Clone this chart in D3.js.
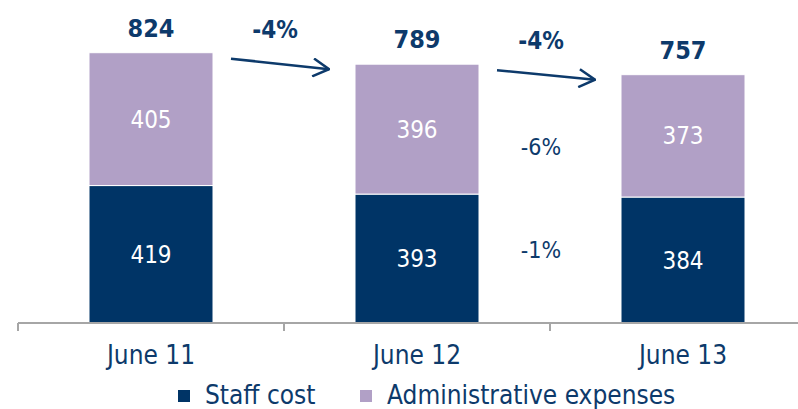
<!DOCTYPE html>
<meta charset="utf-8">
<script src="https://d3js.org/d3.v7.min.js"></script>
<style>
  body { margin: 0; background: #fff; }
  text { font-family: "DejaVu Sans Condensed", "DejaVu Sans", sans-serif; }
</style>
<div id="chart"></div>
<script>

// data
var categories = ["June 11", "June 12", "June 13"];
var staffCost = [419, 393, 384];
var adminExp = [405, 396, 373];
var totals = [824, 789, 757];
var yoyLabels = ["-4%", "-4%"];
var growthLabels = ["-1%", "-6%"];   // staff, admin (June 12 -> June 13)
var seriesNames = ["Staff cost", "Administrative expenses"];

var navy = "#003466", lilac = "#b1a0c6", textCol = "#0d3a6b";

var W = 798, H = 409;
var baseY = 323;

var svg = d3.select("#chart").append("svg")
    .attr("width", W)
    .attr("height", H);

var x = d3.scaleBand()
    .domain(categories)
    .range([18, 816])
    .paddingInner(0)
    .paddingOuter(0);

var barW = 124;

var y = d3.scaleLinear()
    .domain([0, 824])
    .range([baseY, 52.7]);

// stacked data
var rows = categories.map(function(c, i) {
  return {cat: c, staff: staffCost[i], admin: adminExp[i]};
});
var stack = d3.stack().keys(["staff", "admin"]);
var layers = stack(rows);
var colors = [navy, lilac];

function barX(c) { return x(c) + (x.bandwidth() - barW) / 2; }

layers.forEach(function(layer, li) {
  svg.append("g").selectAll("rect")
    .data(layer)
    .enter().append("rect")
      .attr("x", function(d) { return barX(d.data.cat); })
      .attr("y", function(d) { return y(d[1]); })
      .attr("width", barW)
      .attr("height", function(d) { return y(d[0]) - y(d[1]); })
      .attr("fill", colors[li])
      .attr("stroke", "#fff")
      .attr("stroke-width", 1);

  // value labels in the middle of each segment
  svg.append("g").selectAll("text")
    .data(layer)
    .enter().append("text")
      .attr("x", function(d) { return x(d.data.cat) + x.bandwidth() / 2; })
      .attr("y", function(d) { return (y(d[0]) + y(d[1])) / 2; })
      .attr("dy", "0.36em")
      .attr("text-anchor", "middle")
      .attr("fill", "#fff")
      .style("font-size", "24px")
      .text(function(d) { return d[1] - d[0]; });
});

// axis
var axis = svg.append("g")
    .attr("transform", "translate(0," + baseY + ")")
    .call(d3.axisBottom(x).tickSize(0).tickPadding(23));
axis.select(".domain").attr("stroke", "#a6a6a6").attr("stroke-width", 2)
    .attr("d", "M18,0H798");
axis.selectAll(".tick text")
    .attr("fill", textCol)
    .style("font-size", "26px")
    .attr("dy", "0.71em");
// ticks between categories
var bounds = [18, x(categories[1]), x(categories[2])];
axis.selectAll(".sep").data(bounds).enter().append("line")
    .attr("x1", function(d) { return d; })
    .attr("x2", function(d) { return d; })
    .attr("y1", 0).attr("y2", 8)
    .attr("stroke", "#a6a6a6").attr("stroke-width", 2);

// totals
svg.append("g").selectAll("text")
  .data(totals)
  .enter().append("text")
    .attr("x", function(d, i) { return x(categories[i]) + x.bandwidth() / 2; })
    .attr("y", function(d) { return y(d) - 16; })
    .attr("text-anchor", "middle")
    .attr("fill", textCol)
    .style("font-size", "25px")
    .style("font-weight", "bold")
    .text(function(d) { return d; });

// arrows between totals
svg.append("defs").append("marker")
    .attr("id", "arr")
    .attr("viewBox", "0 0 20 20")
    .attr("refX", 19).attr("refY", 10)
    .attr("markerWidth", 20).attr("markerHeight", 20)
    .attr("markerUnits", "userSpaceOnUse")
    .attr("orient", "auto")
  .append("path")
    .attr("d", "M3,1L19,10L3,19")
    .attr("fill", "none")
    .attr("stroke", textCol)
    .attr("stroke-width", 2.5);

yoyLabels.forEach(function(lbl, i) {
  var x1 = barX(categories[i]) + barW + 18;
  var y1 = y(totals[i]) + 6;
  var x2 = barX(categories[i + 1]) - 26;
  var y2 = y(totals[i + 1]) + 5;
  svg.append("line")
    .attr("x1", x1).attr("y1", y1)
    .attr("x2", x2).attr("y2", y2)
    .attr("stroke", textCol)
    .attr("stroke-width", 2.5)
    .attr("marker-end", "url(#arr)");
  var mid = (barX(categories[i]) + barW + barX(categories[i + 1])) / 2 - 9;
  svg.append("text")
    .attr("x", mid)
    .attr("y", y2 - 31)
    .attr("text-anchor", "middle")
    .attr("fill", textCol)
    .style("font-size", "24px")
    .style("font-weight", "bold")
    .text(lbl);
});

// growth labels between June 12 and June 13
var gx = (barX(categories[1]) + barW + barX(categories[2])) / 2 - 9;
var gy = [
  (y(0) + y(staffCost[2])) / 2 - 10,
  (y(staffCost[2]) + y(totals[2])) / 2 + 11
];
growthLabels.forEach(function(lbl, i) {
  svg.append("text")
    .attr("x", gx)
    .attr("y", gy[i])
    .attr("dy", "0.36em")
    .attr("text-anchor", "middle")
    .attr("fill", textCol)
    .style("font-size", "23px")
    .text(lbl);
});

// legend
var legX = [178, 360];
var leg = svg.append("g").selectAll("g")
  .data(seriesNames)
  .enter().append("g")
    .attr("transform", function(d, i) { return "translate(" + legX[i] + ",390)"; });
leg.append("rect")
    .attr("width", 12).attr("height", 12)
    .attr("fill", function(d, i) { return colors[i]; });
leg.append("text")
    .attr("x", 27)
    .attr("y", 14)
    .attr("fill", textCol)
    .style("font-size", "26px")
    .text(function(d) { return d; });

</script>
